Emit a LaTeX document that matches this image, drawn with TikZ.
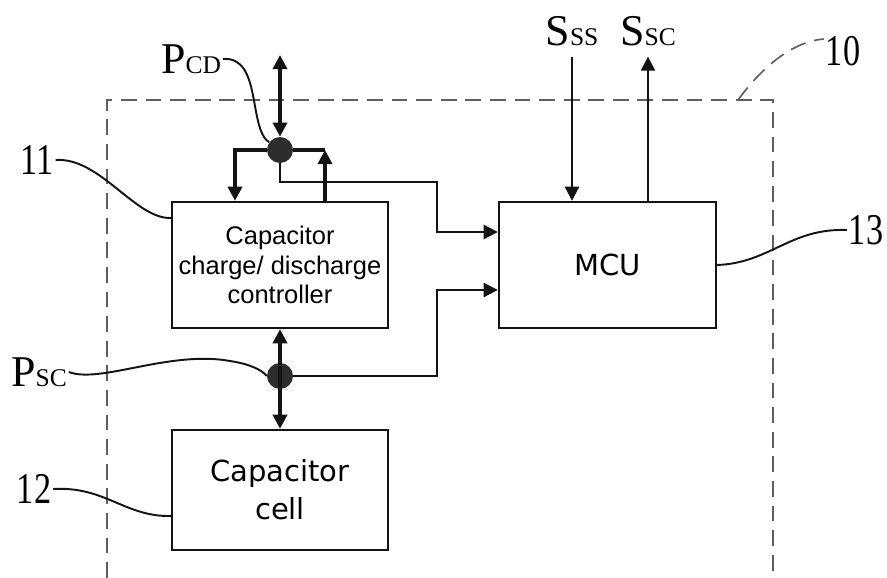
\documentclass[tikz,border=0pt]{standalone}
\usepackage{fontspec}
\usepackage{graphicx}
\setmainfont{Liberation Serif}
\newfontfamily\blockfont{Liberation Sans}
\newfontfamily\cellfont{DejaVu Sans}
\usetikzlibrary{arrows.meta,calc}
\definecolor{figline}{RGB}{20,20,20}
\definecolor{figdash}{RGB}{95,95,95}
\definecolor{figdot}{RGB}{45,45,45}
\newcommand{\refnum}[1]{\scalebox{0.78}[1]{#1}}
\newcommand{\sig}[2]{#1{\fontsize{14.5}{14.5}\selectfont #2}}
\tikzset{
  >={Triangle[length=8pt,width=8pt]},
  blk/.style  ={draw=figline, line width=1.4pt, fill=white, align=center, inner sep=0pt},
  ctrlf/.style={font=\blockfont\fontsize{14.5}{17}\selectfont},
  cellf/.style={font=\cellfont\fontsize{16.5}{21.5}\selectfont},
  thk/.style  ={draw=figline, line width=1.9pt},
  thn/.style  ={draw=figline, line width=1.2pt},
  ldr/.style  ={draw=figline, line width=1.1pt},
  dsh/.style  ={draw=figdash, line width=0.95pt, dash pattern=on 9pt off 5pt},
  jn/.style   ={circle, fill=figdot, minimum size=0.52cm, inner sep=0pt},
  lab/.style  ={font=\fontsize{25}{25}\selectfont, inner sep=1pt},
}
\begin{document}
\begin{tikzpicture}[x=0.02cm, y=-0.02cm]
  \useasboundingbox (0,0) rectangle (887,578);
  \clip (0,0) rectangle (887,578);
  % outer device frame
  \draw[dsh] (107,578) |- (773,100) -- (773,578);
  \coordinate (c10) at (738,100);
  % blocks
  \node[blk, ctrlf, minimum width=4.32cm, minimum height=2.52cm] (ctrl) at (280,265) {Capacitor\\charge/ discharge\\controller};
  \node[blk, cellf, minimum width=4.32cm, minimum height=2.4cm] (cell) at (280,490) {Capacitor\\cell};
  \node[blk, cellf, minimum width=4.34cm, minimum height=2.52cm] (mcu) at (607.5,265) {MCU};
  \node[jn] (pcd) at (280,150) {};
  \node[jn] (psc) at (280,376) {};
  % labels
  \node[lab] (l10) at (843,51) {\refnum{10}};
  \node[lab] (l11) at (37,160) {\refnum{11}};
  \node[lab] (l12) at (34,489) {\refnum{12}};
  \node[lab] (l13) at (866,230) {\refnum{13}};
  \node[lab] (lpcd) at (191,59) {\sig{P}{CD}};
  \node[lab] (lpsc) at (39,372) {\sig{P}{SC}};
  \node[lab] (sss) at (572,31) {\sig{S}{SS}};
  \node[lab] (ssc) at (648,31) {\sig{S}{SC}};
  % power path
  \coordinate (pcdtop) at (280,55);
  \coordinate (brl) at (235,150);
  \coordinate (brr) at (325,150);
  \draw[thk,<->] (pcdtop) -- (pcd);
  \draw[thk,->] (pcd) -- (brl) -- (brl |- ctrl.north);
  \draw[thk] (pcd) -- (brr);
  \draw[thk,->] (brr |- ctrl.north) -- (brr);
  \draw[thk,<->] (ctrl.south) -- (cell.north);
  % sense lines to MCU
  \coordinate (mcuin1) at ($(mcu.west)+(0,-33)$);
  \coordinate (mcuin2) at ($(mcu.west)+(0,25)$);
  \draw[thn,->] (pcd) |- (437,182) |- (mcuin1);
  \draw[thn,->] (psc) -| (437,290) -- (mcuin2);
  \draw[thn,->,shorten <=5pt] (sss.south) -- (sss.south |- mcu.north);
  \draw[thn,->,shorten >=5pt] (ssc.south |- mcu.north) -- (ssc.south);
  % leaders
  \draw[dsh] (c10) .. controls (760,70) and (790,42) .. ($(l10.west)+(0,-12)$);
  \draw[ldr] (l11.east) .. controls (100,157) and (135,219) .. ($(ctrl.west)+(0,-47)$);
  \draw[ldr] (l12.east) .. controls (105,486) and (125,517) .. ($(cell.west)+(0,26)$);
  \draw[ldr] (mcu.east) .. controls (770,263) and (790,228) .. (l13.west);
  \draw[ldr] (lpcd.east) .. controls (262,56) and (248,128) .. (pcd.145);
  \draw[ldr] (lpsc.east) .. controls (100,384) and (170,350) .. (230,361) .. controls (250,364) and (262,370) .. (psc.west);
\end{tikzpicture}
\end{document}
